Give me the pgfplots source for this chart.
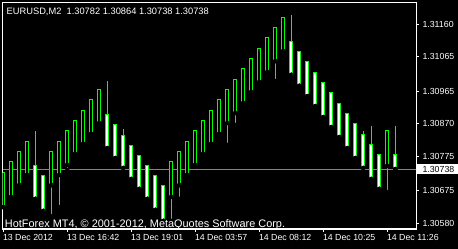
\documentclass[border=0pt]{standalone}
\usepackage{pgfplots}
\pgfplotsset{compat=1.18}
\usepackage{pgfplotstable}
\usepackage{fontspec}
\setmainfont{Liberation Sans}
\definecolor{mtgreen}{RGB}{0,255,0}
\definecolor{pricegray}{RGB}{119,136,153}

% i: bar number, low/high: wick ends, lo/hi: body bottom/top
\pgfplotstableread{
i low lo hi high
1 1.30627 1.30627 1.30729 1.30729
2 1.30657 1.30657 1.30761 1.30761
3 1.30691 1.30691 1.30790 1.30790
4 1.30721 1.30721 1.30820 1.30820
7 1.30601 1.30691 1.30790 1.30790
8 1.30627 1.30721 1.30820 1.30820
9 1.30735 1.30750 1.30852 1.30852
10 1.30782 1.30782 1.30881 1.30881
11 1.30811 1.30811 1.30910 1.30910
12 1.30840 1.30840 1.30942 1.30942
13 1.30863 1.30872 1.30971 1.30971
22 1.30587 1.30657 1.30761 1.30761
23 1.30651 1.30691 1.30790 1.30790
24 1.30721 1.30721 1.30820 1.30820
25 1.30750 1.30750 1.30852 1.30852
26 1.30782 1.30782 1.30881 1.30881
27 1.30811 1.30811 1.30910 1.30910
28 1.30840 1.30840 1.30942 1.30942
29 1.30808 1.30872 1.30971 1.30971
30 1.30866 1.30901 1.31000 1.31000
31 1.30930 1.30930 1.31032 1.31032
32 1.30962 1.30962 1.31061 1.31061
33 1.30991 1.30991 1.31090 1.31090
34 1.31020 1.31020 1.31122 1.31122
35 1.30994 1.31052 1.31151 1.31151
36 1.31081 1.31081 1.31180 1.31180
49 1.30671 1.30747 1.30852 1.30852
}\bull

\pgfplotstableread{
i low lo hi high
5 1.30651 1.30651 1.30750 1.30849
6 1.30616 1.30616 1.30721 1.30721
14 1.30799 1.30799 1.30898 1.30994
15 1.30770 1.30770 1.30869 1.30869
16 1.30741 1.30741 1.30837 1.30854
17 1.30709 1.30709 1.30808 1.30808
18 1.30680 1.30680 1.30779 1.30779
19 1.30651 1.30651 1.30750 1.30750
20 1.30619 1.30619 1.30721 1.30721
21 1.30587 1.30587 1.30691 1.30691
37 1.31012 1.31012 1.31111 1.31186
38 1.30980 1.30980 1.31081 1.31081
39 1.30950 1.30950 1.31052 1.31052
40 1.30921 1.30921 1.31020 1.31020
41 1.30889 1.30889 1.30991 1.30991
42 1.30860 1.30860 1.30962 1.30962
43 1.30831 1.30831 1.30930 1.30930
44 1.30799 1.30799 1.30901 1.30901
45 1.30770 1.30770 1.30872 1.30872
46 1.30741 1.30741 1.30840 1.30849
47 1.30709 1.30709 1.30811 1.30863
48 1.30680 1.30680 1.30782 1.30782
50 1.30738 1.30738 1.30782 1.30864
}\bear

\pgfplotsset{
  wick/.style={only marks, mark=none,
    error bars/.cd, y dir=plus, y explicit, error mark=none,
    error bar style={draw=mtgreen, line width=1pt}},
  bodyout/.style={only marks, mark=none,
    error bars/.cd, y dir=plus, y explicit, error mark=none,
    error bar style={draw=mtgreen, line width=4pt}},
  bodyin/.style={only marks, mark=none,
    error bars/.cd, y dir=plus, y explicit, error mark=none,
    error bar style={draw=#1, line width=2pt, shorten <=1pt, shorten >=1pt}},
}

\begin{document}
\begin{tikzpicture}
\useasboundingbox (0pt,0pt) rectangle (458pt,249pt);
\fill[black] (0pt,0pt) rectangle (458pt,249pt);
\begin{axis}[
  at={(2.7pt,20pt)}, anchor=south west,
  scale only axis, width=413.6pt, height=226.5pt,
  xmin=0.925, xmax=52.625, ymin=1.3056341, ymax=1.3122257,
  axis line style={white, line width=1pt},
  tick style={white, line width=1pt},
  tick align=outside, major tick length=3pt,
  xtick pos=left, ytick pos=right,
  xticklabel pos=left, yticklabel pos=right,
  xtick={1,9,17,25,33,41,49},
  xticklabels={13 Dec 2012,13 Dec 16:42,13 Dec 19:01,14 Dec 03:57,14 Dec 08:12,14 Dec 10:25,14 Dec 11:26},
  ytick={1.3058,1.30675,1.30775,1.3087,1.30965,1.31065,1.3116},
  yticklabels={1.30580,1.30675,1.30775,1.30870,1.30965,1.31065,1.31160},
  tick label style={text=white, font=\fontsize{8.8}{10}\selectfont, inner sep=0pt},
  xticklabel style={anchor=north west, xshift=-0.5pt, yshift=-2.3pt},
  yticklabel style={anchor=west, xshift=3pt},
  extra y ticks={1.30738},
  extra y tick labels={1.30738},
  extra y tick style={grid=major, major grid style={pricegray, line width=1pt},
    yticklabel style={fill=white, text=black, inner xsep=5.6pt, inner ysep=2pt, xshift=-5.6pt}},
  /pgf/number format/assume math mode=true,
]
% rising bars: hollow
\addplot[wick] table[x=i, y=low, y error plus expr=\thisrow{high}-\thisrow{low}] {\bull};
\addplot[bodyout] table[x=i, y=lo, y error plus expr=\thisrow{hi}-\thisrow{lo}] {\bull};
\addplot[bodyin=black] table[x=i, y=lo, y error plus expr=\thisrow{hi}-\thisrow{lo}] {\bull};
% falling bars: white
\addplot[wick] table[x=i, y=low, y error plus expr=\thisrow{high}-\thisrow{low}] {\bear};
\addplot[bodyout] table[x=i, y=lo, y error plus expr=\thisrow{hi}-\thisrow{lo}] {\bear};
\addplot[bodyin=white] table[x=i, y=lo, y error plus expr=\thisrow{hi}-\thisrow{lo}] {\bear};
\end{axis}
\node[anchor=base west, inner sep=0pt, text=white, font=\fontsize{9.3}{11}\selectfont]
  at (6.5pt,234.7pt) {EURUSD,M2\ \ 1.30782 1.30864 1.30738 1.30738};
\node[anchor=base west, inner sep=0pt, text=white, font=\fontsize{10.9}{12}\selectfont]
  at (4.8pt,21.7pt) {HotForex MT4, © 2001-2012, MetaQuotes Software Corp.};
\end{tikzpicture}
\end{document}
